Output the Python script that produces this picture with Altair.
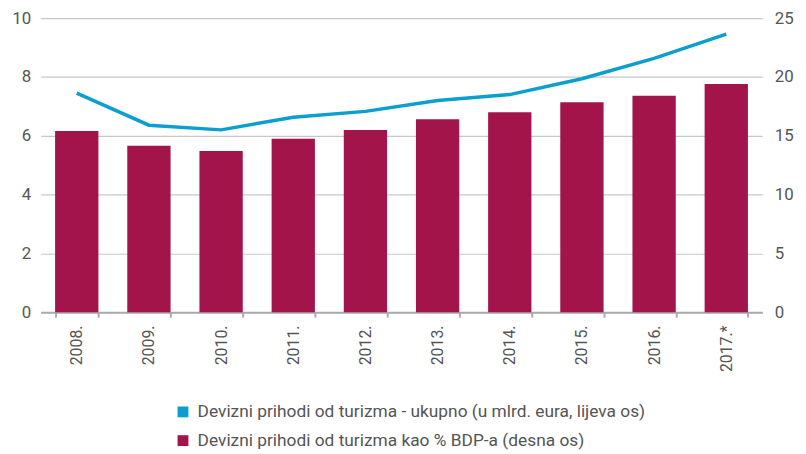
import altair as alt
import pandas as pd

years = ["2008.", "2009.", "2010.", "2011.", "2012.", "2013.", "2014.", "2015.", "2016.", "2017.*"]
prihodi_mlrd = [7.45, 6.36, 6.2, 6.63, 6.83, 7.2, 7.4, 7.94, 8.63, 9.46]
prihodi_pct_bdp = [15.4, 14.15, 13.7, 14.75, 15.5, 16.4, 17.0, 17.85, 18.4, 19.4]

s_line = "Devizni prihodi od turizma - ukupno (u mlrd. eura, lijeva os)"
s_bar = "Devizni prihodi od turizma kao % BDP-a (desna os)"

df_line = pd.DataFrame({"year": years, "v": prihodi_mlrd, "series": s_line})
df_bar = pd.DataFrame({"year": years, "v": prihodi_pct_bdp, "series": s_bar})

FONT = "Roboto"
GREY = "#555555"

color = alt.Color(
    "series:N",
    scale=alt.Scale(domain=[s_line, s_bar], range=["#0a9fcf", "#a3144a"]),
    legend=alt.Legend(
        title=None, orient="none", legendX=135, legendY=389,
        symbolType="square", symbolSize=120, symbolStrokeWidth=0,
        labelFont=FONT, labelFontSize=17.5, labelColor=GREY,
        rowPadding=10, labelLimit=600, symbolOpacity=1, labelOffset=6,
    ),
)

x = alt.X(
    "year:N", sort=years, title=None,
    scale=alt.Scale(paddingInner=0.4, paddingOuter=0.2),
    axis=alt.Axis(
        labelAngle=-90, labelAlign="right", labelBaseline="middle",
        labelFont=FONT, labelFontSize=16, labelColor=GREY, labelPadding=8,
        domainColor="#aaaaaa", domainWidth=2, tickColor="#aaaaaa", tickWidth=2,
        tickSize=5, tickBand="extent", grid=False,
    ),
)

bars = alt.Chart(df_bar).mark_bar(color="#a3144a").encode(
    x=x,
    y=alt.Y(
        "v:Q", title=None,
        scale=alt.Scale(domain=[0, 25]),
        axis=alt.Axis(
            orient="right", values=[0, 5, 10, 15, 20, 25], grid=False,
            domain=False, ticks=False, labelFont=FONT, labelFontSize=17,
            labelColor=GREY, labelPadding=12,
        ),
    ),
    color=color,
)

line = alt.Chart(df_line).mark_line(strokeWidth=3.5, color="#0a9fcf").encode(
    x=x,
    y=alt.Y(
        "v:Q", title=None,
        scale=alt.Scale(domain=[0, 10]),
        axis=alt.Axis(
            orient="left", values=[0, 2, 4, 6, 8, 10], grid=True,
            gridColor="#c8c8c8", gridWidth=1.2,
            domain=False, ticks=False, labelFont=FONT, labelFontSize=17,
            labelColor=GREY, labelPadding=10,
        ),
    ),
    color=color,
)

chart = alt.layer(bars, line).resolve_scale(y="independent").properties(
    width=729, height=297,
    autosize=alt.AutoSizeParams(type="none"),
    padding={"left": 33, "top": 8, "right": 36, "bottom": 140},
).configure_view(stroke=None)

chart.save("out.html", embed_options={"renderer": "svg", "actions": False})
